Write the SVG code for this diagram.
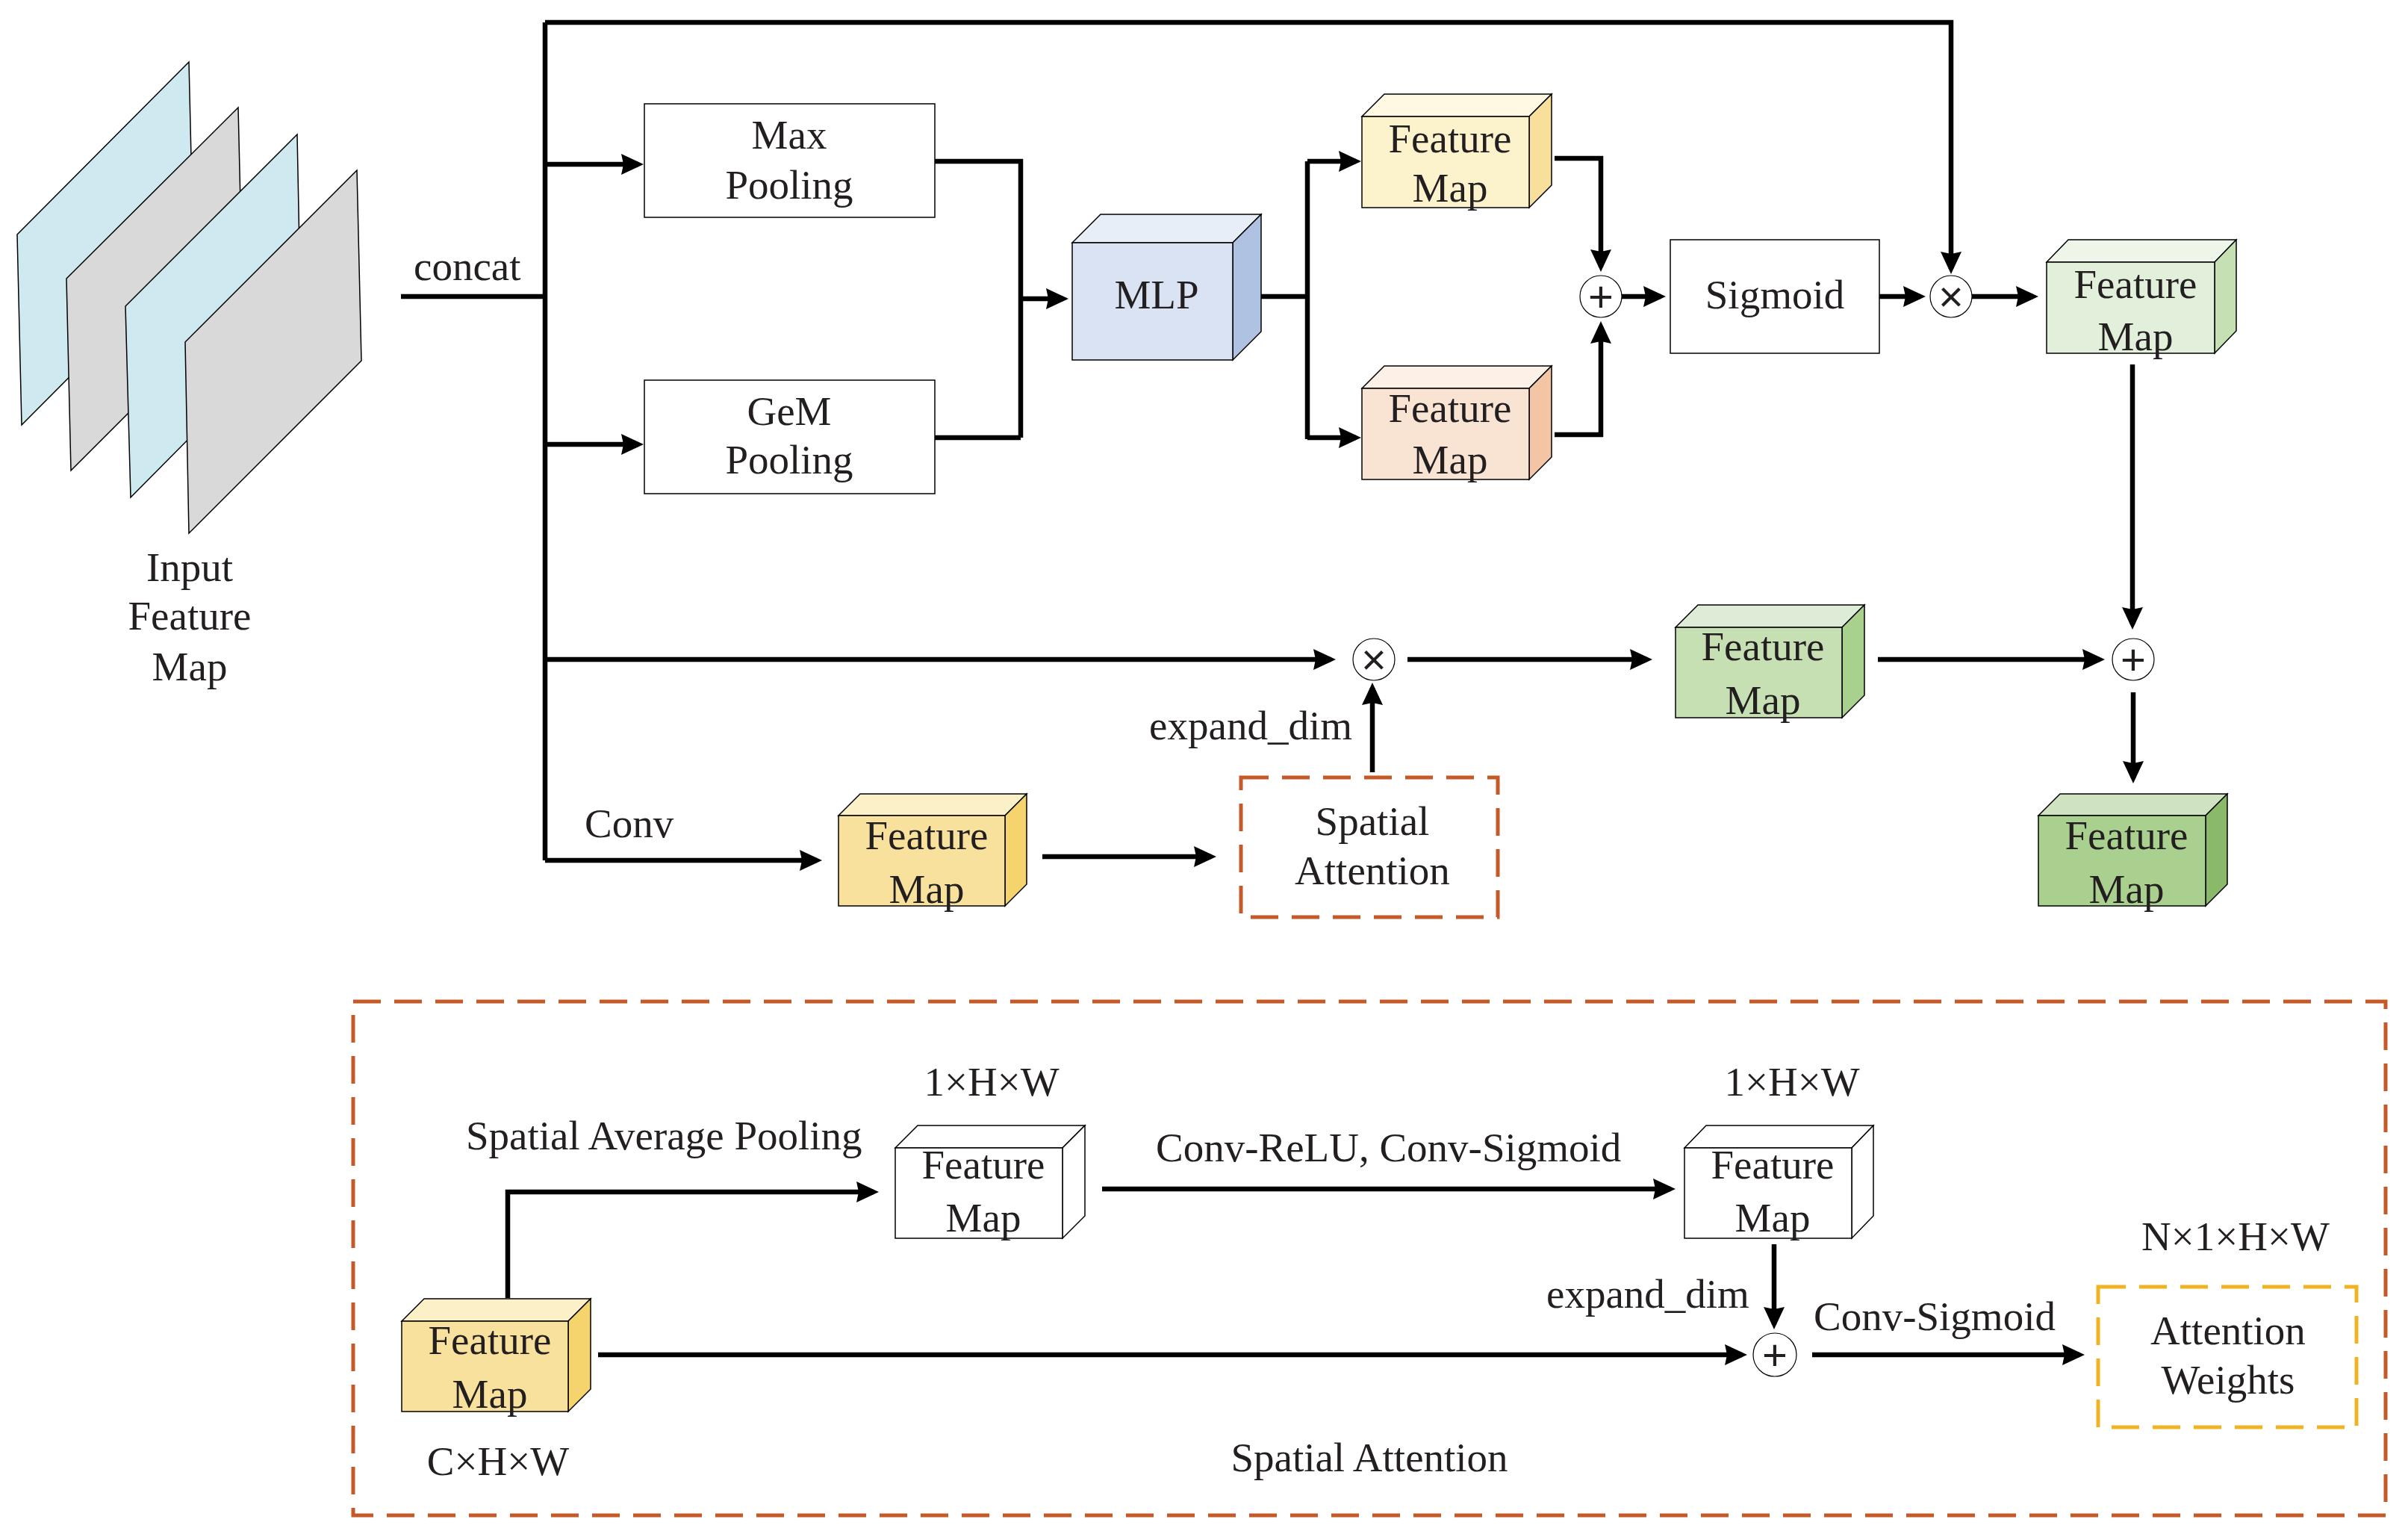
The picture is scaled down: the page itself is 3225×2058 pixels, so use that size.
<svg xmlns="http://www.w3.org/2000/svg" width="3225" height="2058" viewBox="0 0 3225 2058">
<defs>
<style>
.t{font-family:"Liberation Serif","Times New Roman",serif;font-size:55px;fill:#231f20}
.m{text-anchor:middle}
.ln{fill:none;stroke:#000;stroke-width:6.5}
.box{fill:#fff;stroke:#000;stroke-width:1.5}
.cb{stroke:#000;stroke-width:1.5;stroke-linejoin:miter}
.op{fill:#fff;stroke:#000;stroke-width:1.2}
.sym{font-family:"Liberation Sans","DejaVu Sans",sans-serif;font-size:58px;fill:#231f20;text-anchor:middle}
.pl{stroke:#000;stroke-width:1.5}
.dsh{fill:none;stroke:#c55a28;stroke-width:5;stroke-dasharray:37 18}
.dshy{fill:none;stroke:#f0b323;stroke-width:5;stroke-dasharray:37 18}
</style>
<marker id="ah" viewBox="0 0 30 28" refX="23" refY="14" markerWidth="30" markerHeight="28" markerUnits="userSpaceOnUse" orient="auto">
<path d="M0,0 L30,14 L0,28 L3,14 z" fill="#000"/>
</marker>
</defs>
<rect width="3225" height="2058" fill="#fff"/>

<g id="input-feature-map">
<polygon class="pl" fill="#cfe9f0" points="23,314 253,83 259,338 29,569"/>
<polygon class="pl" fill="#d9d9d9" points="89,373 319,144 325,400 95,630"/>
<polygon class="pl" fill="#cfe9f0" points="168,410 398,180 403,436 175,666"/>
<polygon class="pl" fill="#d9d9d9" points="248,458 478,228 484,483 253,714"/>
<text class="t m" x="254" y="778">Input</text>
<text class="t m" x="254" y="843">Feature</text>
<text class="t m" x="254" y="911">Map</text>
</g>

<g id="connectors">
<path class="ln" d="M537,397 H730"/>
<path class="ln" d="M730,30 V1152"/>
<path class="ln" d="M730,30 H2613 V360" marker-end="url(#ah)"/>
<path class="ln" d="M730,220 H855" marker-end="url(#ah)"/>
<path class="ln" d="M730,595 H855" marker-end="url(#ah)"/>
<path class="ln" d="M1252,216 H1367 V586 M1252,586 H1367"/>
<path class="ln" d="M1367,400 H1424" marker-end="url(#ah)"/>
<path class="ln" d="M1689,397 H1751 M1751,216 V588"/>
<path class="ln" d="M1751,216 H1816" marker-end="url(#ah)"/>
<path class="ln" d="M1751,586 H1816" marker-end="url(#ah)"/>
<path class="ln" d="M2082,212 H2144 V357" marker-end="url(#ah)"/>
<path class="ln" d="M2082,582 H2144 V437" marker-end="url(#ah)"/>
<path class="ln" d="M2172,397 H2224" marker-end="url(#ah)"/>
<path class="ln" d="M2517,397 H2572" marker-end="url(#ah)"/>
<path class="ln" d="M2641,397 H2723" marker-end="url(#ah)"/>
<path class="ln" d="M2856,488 V836" marker-end="url(#ah)"/>
<path class="ln" d="M730,883 H1782" marker-end="url(#ah)"/>
<path class="ln" d="M1838,1034 V921" marker-end="url(#ah)"/>
<path class="ln" d="M1885,883 H2206" marker-end="url(#ah)"/>
<path class="ln" d="M2515,883 H2812" marker-end="url(#ah)"/>
<path class="ln" d="M2857,927 V1042" marker-end="url(#ah)"/>
<path class="ln" d="M730,1152 H1094" marker-end="url(#ah)"/>
<path class="ln" d="M1396,1147 H1622" marker-end="url(#ah)"/>
<path class="ln" d="M680,1738 V1596 H1170" marker-end="url(#ah)"/>
<path class="ln" d="M1476,1592 H2237" marker-end="url(#ah)"/>
<path class="ln" d="M2376,1666 V1773" marker-end="url(#ah)"/>
<path class="ln" d="M801,1814 H2333" marker-end="url(#ah)"/>
<path class="ln" d="M2427,1814 H2785" marker-end="url(#ah)"/>
</g>

<g id="labels">
<text class="t" x="554" y="375">concat</text>
<text class="t" x="1811" y="990" text-anchor="end">expand_dim</text>
<text class="t" x="783" y="1121">Conv</text>
</g>

<g id="max-pooling">
<rect class="box" x="863" y="139" width="389" height="152"/>
<text class="t m" x="1057" y="199">Max</text>
<text class="t m" x="1057" y="266">Pooling</text>
</g>
<g id="gem-pooling">
<rect class="box" x="863" y="509" width="389" height="152"/>
<text class="t m" x="1057" y="569">GeM</text>
<text class="t m" x="1057" y="634">Pooling</text>
</g>

<g id="mlp">
<polygon class="cb" fill="#e8eef8" points="1436,325 1474,287 1689,287 1651,325"/>
<polygon class="cb" fill="#b0c2e2" points="1651,325 1689,287 1689,444 1651,482"/>
<rect class="cb" fill="#dae3f3" x="1436" y="325" width="215" height="157"/>
<text class="t m" x="1549" y="413">MLP</text>
</g>

<g id="feature-map-max">
<polygon class="cb" fill="#fff8e3" points="1824,156 1854,126 2078,126 2048,156"/>
<polygon class="cb" fill="#f8e09c" points="2048,156 2078,126 2078,248 2048,278"/>
<rect class="cb" fill="#fcf2cc" x="1824" y="156" width="224" height="122"/>
<text class="t m" x="1942" y="204">Feature</text>
<text class="t m" x="1942" y="270">Map</text>
</g>

<g id="feature-map-gem">
<polygon class="cb" fill="#fcf0e7" points="1824,520 1854,490 2078,490 2048,520"/>
<polygon class="cb" fill="#f3c5a5" points="2048,520 2078,490 2078,612 2048,642"/>
<rect class="cb" fill="#f9e3d3" x="1824" y="520" width="224" height="122"/>
<text class="t m" x="1942" y="565">Feature</text>
<text class="t m" x="1942" y="634">Map</text>
</g>

<g id="add-channel">
<circle class="op" cx="2144" cy="397" r="28"/>
<text class="sym" x="2144" y="417">+</text>
</g>

<g id="sigmoid">
<rect class="box" x="2237" y="321" width="280" height="152"/>
<text class="t m" x="2377" y="413">Sigmoid</text>
</g>

<g id="mul-channel">
<circle class="op" cx="2613" cy="397" r="28"/>
<text class="sym" x="2613" y="417">×</text>
</g>

<g id="feature-map-channel">
<polygon class="cb" fill="#eef6ea" points="2741,351 2770,321 2995,321 2966,351"/>
<polygon class="cb" fill="#c5e0b3" points="2966,351 2995,321 2995,443 2966,473"/>
<rect class="cb" fill="#e2efda" x="2741" y="351" width="225" height="122"/>
<text class="t m" x="2860" y="399">Feature</text>
<text class="t m" x="2860" y="469">Map</text>
</g>

<g id="mul-spatial">
<circle class="op" cx="1840" cy="883" r="28"/>
<text class="sym" x="1840" y="903">×</text>
</g>

<g id="feature-map-spatial">
<polygon class="cb" fill="#deebd6" points="2244,840 2274,810 2497,810 2467,840"/>
<polygon class="cb" fill="#a9d18e" points="2467,840 2497,810 2497,931 2467,961"/>
<rect class="cb" fill="#c6e0b4" x="2244" y="840" width="223" height="121"/>
<text class="t m" x="2361" y="884">Feature</text>
<text class="t m" x="2361" y="956">Map</text>
</g>

<g id="add-final">
<circle class="op" cx="2857" cy="883" r="28"/>
<text class="sym" x="2857" y="903">+</text>
</g>

<g id="feature-map-output">
<polygon class="cb" fill="#cfe3c1" points="2730,1092 2759,1063 2983,1063 2954,1092"/>
<polygon class="cb" fill="#8aba69" points="2954,1092 2983,1063 2983,1184 2954,1213"/>
<rect class="cb" fill="#a9d08e" x="2730" y="1092" width="224" height="121"/>
<text class="t m" x="2848" y="1137">Feature</text>
<text class="t m" x="2848" y="1209">Map</text>
</g>

<g id="feature-map-conv">
<polygon class="cb" fill="#fcf0c8" points="1123,1092 1152,1063 1375,1063 1346,1092"/>
<polygon class="cb" fill="#f5d46e" points="1346,1092 1375,1063 1375,1184 1346,1213"/>
<rect class="cb" fill="#f8e19c" x="1123" y="1092" width="223" height="121"/>
<text class="t m" x="1241" y="1137">Feature</text>
<text class="t m" x="1241" y="1209">Map</text>
</g>

<g id="spatial-attention">
<rect class="dsh" x="1662" y="1041" width="344" height="187"/>
<text class="t m" x="1838" y="1118">Spatial</text>
<text class="t m" x="1838" y="1184">Attention</text>
</g>

<g id="spatial-attention-detail">
<rect class="dsh" x="473" y="1341" width="2722" height="688"/>
<text class="t m" x="1834" y="1970">Spatial Attention</text>
<text class="t" x="624" y="1539">Spatial Average Pooling</text>
<text class="t" x="1548" y="1555">Conv-ReLU, Conv-Sigmoid</text>
<text class="t" x="2071" y="1751">expand_dim</text>
<text class="t" x="2429" y="1781">Conv-Sigmoid</text>
</g>

<g id="sa-feature-map-input">
<polygon class="cb" fill="#fcf0c8" points="538,1769 568,1739 791,1739 761,1769"/>
<polygon class="cb" fill="#f5d46e" points="761,1769 791,1739 791,1860 761,1890"/>
<rect class="cb" fill="#f8e19c" x="538" y="1769" width="223" height="121"/>
<text class="t m" x="656" y="1813">Feature</text>
<text class="t m" x="656" y="1885">Map</text>
<text class="t m" x="667" y="1975">C×H×W</text>
</g>

<g id="sa-feature-map-pool">
<polygon class="cb" fill="#fff" points="1199,1537 1229,1507 1453,1507 1423,1537"/>
<polygon class="cb" fill="#fff" points="1423,1537 1453,1507 1453,1628 1423,1658"/>
<rect class="cb" fill="#fff" x="1199" y="1537" width="224" height="121"/>
<text class="t m" x="1317" y="1578">Feature</text>
<text class="t m" x="1317" y="1649">Map</text>
<text class="t m" x="1328" y="1467">1×H×W</text>
</g>

<g id="sa-feature-map-conv">
<polygon class="cb" fill="#fff" points="2256,1537 2285,1507 2509,1507 2480,1537"/>
<polygon class="cb" fill="#fff" points="2480,1537 2509,1507 2509,1628 2480,1658"/>
<rect class="cb" fill="#fff" x="2256" y="1537" width="224" height="121"/>
<text class="t m" x="2374" y="1578">Feature</text>
<text class="t m" x="2374" y="1649">Map</text>
<text class="t m" x="2400" y="1467">1×H×W</text>
</g>

<g id="sa-add">
<circle class="op" cx="2377" cy="1814" r="29"/>
<text class="sym" x="2377" y="1834">+</text>
</g>

<g id="attention-weights">
<rect class="dshy" x="2810" y="1723" width="346" height="188"/>
<text class="t m" x="2984" y="1800">Attention</text>
<text class="t m" x="2984" y="1866">Weights</text>
<text class="t m" x="2994" y="1674">N×1×H×W</text>
</g>
</svg>
